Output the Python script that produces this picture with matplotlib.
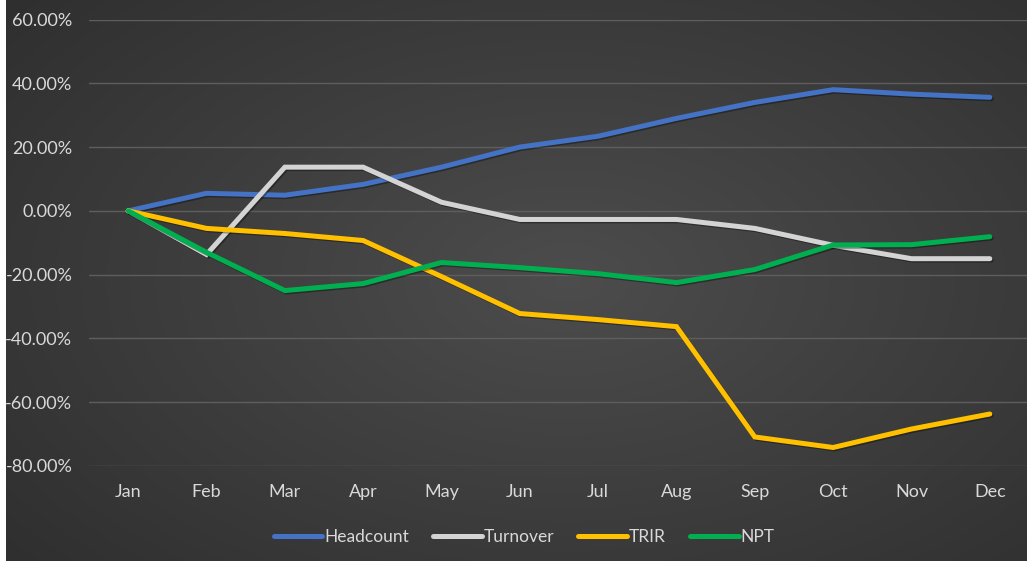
import numpy as np
import matplotlib
matplotlib.use('Agg')
import matplotlib.pyplot as plt
import matplotlib.patheffects as pe
from matplotlib.ticker import FuncFormatter

months = ['Jan', 'Feb', 'Mar', 'Apr', 'May', 'Jun', 'Jul', 'Aug', 'Sep', 'Oct', 'Nov', 'Dec']
headcount = [0, 5.5, 4.9, 8.3, 13.7, 20.0, 23.4, 29.0, 34.0, 38.0, 36.6, 35.6]
turnover = [0, -13.7, 13.7, 13.7, 2.7, -2.7, -2.7, -2.7, -5.5, -10.8, -15.0, -15.0]
trir = [0, -5.5, -7.1, -9.3, -20.6, -32.2, -34.1, -36.3, -70.9, -74.2, -68.4, -63.7]
npt = [0, -13.0, -25.0, -22.8, -16.2, -17.8, -19.7, -22.5, -18.4, -10.7, -10.6, -8.1]

series = [('Headcount', headcount, '#4472C4'),
          ('Turnover', turnover, '#D4D4D4'),
          ('TRIR', trir, '#FFC000'),
          ('NPT', npt, '#00B050')]

plt.rcParams['font.family'] = ['Lato', 'DejaVu Sans']

fig = plt.figure(figsize=(10.27, 5.63), dpi=100, facecolor='white')

# background with radial gradient
bg = fig.add_axes([6 / 1027, 2 / 563, 1 - 6 / 1027, 1 - 2 / 563])
yy, xx = np.mgrid[0:1:300j, 0:1:500j]
r = np.sqrt(((xx - 0.55) / 0.75) ** 2 + ((yy - 0.5) / 0.8) ** 2)
shade = np.clip(0.30 - 0.12 * r, 0.15, 0.31)
bg.imshow(np.dstack([shade] * 3), aspect='auto', extent=[0, 1, 0, 1], interpolation='bilinear')
bg.set_axis_off()

ax = fig.add_axes([89 / 1027, 97 / 563, 940 / 1027, 446.5 / 563])
ax.set_facecolor('none')

x = np.arange(len(months))
for name, vals, color in series:
    ax.plot(x, vals, color=color, lw=3.6, label=name, solid_capstyle='round', solid_joinstyle='miter',
            path_effects=[pe.SimpleLineShadow(offset=(1, -1), shadow_color='black', alpha=0.35), pe.Normal()])

ax.set_xlim(-0.5, 11.5)
ax.set_ylim(-80, 60)
ax.set_yticks(np.arange(-80, 61, 20))
ax.yaxis.set_major_formatter(FuncFormatter(lambda v, p: f'{v:.2f}%'))
ax.set_xticks(x)
ax.set_xticklabels(months)
ax.grid(axis='y', color='#5e5e5e', lw=1)
ax.set_axisbelow(True)
for s in ax.spines.values():
    s.set_visible(False)
ax.tick_params(axis='both', length=0, colors='#d9d9d9', labelsize=13)
ax.tick_params(axis='y', pad=12)
ax.tick_params(axis='x', pad=13)

leg = fig.legend(loc='center', bbox_to_anchor=(524 / 1027, 1 - 537 / 563), ncol=4, frameon=False,
                 handlelength=2.8, handletextpad=0.1, columnspacing=1.4, fontsize=12.5)
for t in leg.get_texts():
    t.set_color('#d9d9d9')
for h in leg.legend_handles:
    h.set_path_effects([])

fig.savefig('out.png', dpi=100, facecolor='white')
